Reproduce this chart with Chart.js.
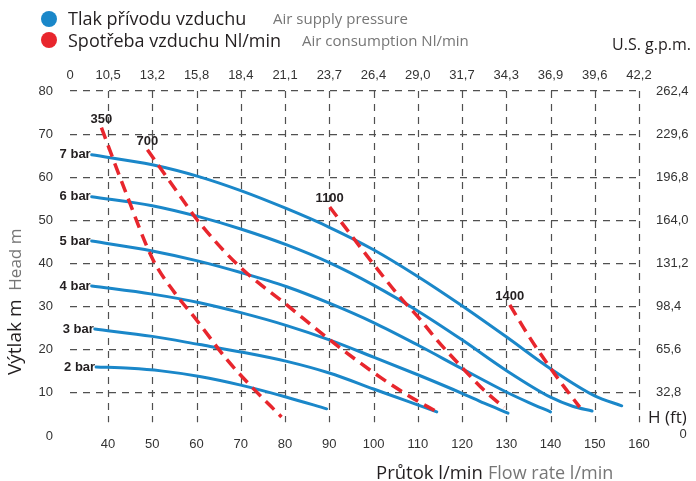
<!DOCTYPE html>
<html><head><meta charset="utf-8">
<script src="https://cdn.jsdelivr.net/npm/chart.js@4"></script>
<style>
html,body{margin:0;padding:0;background:#fff;}
#wrap{position:relative;width:696px;height:481px;overflow:hidden;background:#fff;}
canvas{position:absolute;left:0;top:0;}
.t{position:absolute;white-space:nowrap;font-family:'Open Sans',sans-serif;line-height:1;color:#231f20;}
.g{color:#767676;}
.dot{position:absolute;width:16px;height:16px;border-radius:50%;}
</style></head><body>
<div id="wrap">
<canvas id="c" width="696" height="481"></canvas>
<div class="dot" style="left:41px;top:11px;background:#1a87c9"></div>
<div class="dot" style="left:41px;top:32px;background:#e8262d"></div>
<div class="t" style="left:68px;top:9px;font-size:18px">Tlak přívodu vzduchu</div>
<div class="t g" style="left:273px;top:11px;font-size:15px">Air supply pressure</div>
<div class="t" style="left:68px;top:31px;font-size:18px">Spotřeba vzduchu Nl/min</div>
<div class="t g" style="left:302px;top:33px;font-size:15px">Air consumption Nl/min</div>
<div class="t" style="right:5px;top:36px;font-size:16px">U.S. g.p.m.</div>
<div class="t" style="left:648px;top:408px;font-size:17px">H (ft)</div>
<div class="t" style="left:376px;top:463px;font-size:18.5px">Průtok l/min</div>
<div class="t g" style="left:488px;top:463px;font-size:18px">Flow rate l/min</div>
<div class="t" style="left:5px;top:375px;font-size:19px;transform-origin:0 0;transform:rotate(-90deg)">Výtlak m<span class="g" style="font-size:17px">&nbsp;&nbsp;Head m</span></div>
</div>
<script>
// ---- Data ----
const xTicks = [40,50,60,70,80,90,100,110,120,130,140,150,160];
const gpmLabels = ['0','10,5','13,2','15,8','18,4','21,1','23,7','26,4','29,0','31,7','34,3','36,9','39,6','42,2'];
const yTicks = [0,10,20,30,40,50,60,70,80];
const ftLabels = ['0','32,8','65,6','98,4','131,2','164,0','196,8','229,6','262,4'];

const pressureLabels = ['2 bar','3 bar','4 bar','5 bar','6 bar','7 bar'];
const bar2X = [37.3, 45, 52, 60.7, 70, 80.4, 89.4];
const bar2Y = [16.0, 15.7, 15.1, 13.8, 11.8, 9.0, 6.3];
const bar3X = [37, 50, 60.7, 70, 80.4, 90, 100, 107, 114.3];
const bar3Y = [24.8, 23.1, 21.2, 19.5, 17.3, 14.6, 10.9, 8.3, 5.6];
const bar4X = [36.3, 50, 60.7, 70, 80.4, 90, 100, 110, 120, 125, 130.4];
const bar4Y = [34.8, 32.9, 30.9, 28.6, 25.6, 22.3, 18.3, 14.2, 9.9, 7.6, 5.3];
const bar5X = [36.3, 50, 60.7, 70, 80.4, 90, 100, 110, 120, 130, 135, 140];
const bar5Y = [45.2, 42.9, 40.5, 37.9, 34.6, 30.8, 26.3, 21.1, 15.6, 10.2, 7.8, 5.6];
const bar6X = [36.3, 50, 60.7, 70, 80.4, 90, 100, 110, 120, 130, 140, 145, 149.4];
const bar6Y = [55.5, 53.4, 50.8, 48.0, 44.3, 40.2, 35.0, 29.0, 22.3, 15.2, 9.0, 6.9, 5.8];
const bar7X = [36.3, 50, 60.7, 70, 80.4, 90, 100, 110, 120, 130, 140, 150, 156.1];
const bar7Y = [65.2, 62.9, 60.1, 56.9, 52.7, 48.4, 43.2, 37.0, 30.2, 23.0, 15.6, 9.3, 7.0];

const consumptionLabels = ['350','700','1100','1400'];
const c350X = [38.5, 44, 50.1, 55, 60, 66.8, 72, 79.2];
const c350Y = [71.5, 56.5, 41, 33.3, 26.9, 17.8, 11.9, 4.4];
const c700X = [48.9, 55, 60.7, 69.8, 80.4, 90.1, 101.4, 108, 114.3];
const c700Y = [66.4, 57.5, 49.4, 39.2, 30.4, 22.3, 13.7, 9.3, 5.6];
const c1100X = [90.1, 95, 99.8, 105.9, 110.4, 114.3, 120, 125, 129.5];
const c1100Y = [53.1, 46.5, 40.1, 32.3, 27.2, 22.3, 15.9, 10.6, 6.6];
const c1400X = [130.8, 135, 139.2, 143, 146.6];
const c1400Y = [30.4, 23.3, 16.9, 11.5, 6.7];

// ---- Chart ----
const X_MIN = 31.4, X_MAX = 160, Y_MIN = 0, Y_MAX = 80, GRID_BOTTOM = 3.2;
const BLUE = '#1a87c9', RED = '#e8262d', GRID = '#505050';
const pts = (xs, ys) => xs.map((x, i) => ({x: x, y: ys[i]}));

const pressureSeries = [[bar2X,bar2Y],[bar3X,bar3Y],[bar4X,bar4Y],[bar5X,bar5Y],[bar6X,bar6Y],[bar7X,bar7Y]];
const consumptionSeries = [[c350X,c350Y],[c700X,c700Y],[c1100X,c1100Y],[c1400X,c1400Y]];

const datasets = [];
consumptionSeries.forEach((s, i) => datasets.push({
  label: consumptionLabels[i], kind: 'c', data: pts(s[0], s[1]),
  borderColor: RED, borderWidth: 3.5, borderDash: [12, 7], borderCapStyle: 'butt',
  pointRadius: 0, cubicInterpolationMode: 'monotone', fill: false
}));
pressureSeries.forEach((s, i) => datasets.push({
  label: pressureLabels[i], kind: 'p', data: pts(s[0], s[1]),
  borderColor: BLUE, borderWidth: 3, borderCapStyle: 'round',
  pointRadius: 0, cubicInterpolationMode: 'monotone', fill: false
}));

const tickFont = {family: "'Liberation Sans', Arial, sans-serif", size: 13};

const gridPlugin = {
  id: 'vgrid',
  beforeDatasetsDraw(chart) {
    const {ctx, chartArea, scales} = chart;
    const x = scales.x, y = scales.y;
    ctx.save();
    ctx.setLineDash([7, 6]);
    ctx.strokeStyle = GRID;
    ctx.lineWidth = 1.2;
    xTicks.forEach(v => {
      const px = Math.round(x.getPixelForValue(v)) + 0.5;
      ctx.beginPath();
      ctx.moveTo(px, chartArea.top);
      ctx.lineTo(px, y.getPixelForValue(GRID_BOTTOM));
      ctx.stroke();
    });
    ctx.restore();
  }
};

const labelPlugin = {
  id: 'labels',
  afterDatasetsDraw(chart) {
    const {ctx} = chart;
    const x = chart.scales.x, y = chart.scales.y;
    ctx.save();
    ctx.fillStyle = '#231f20';
    ctx.font = "bold 13px 'Liberation Sans', Arial, sans-serif";
    chart.data.datasets.forEach(ds => {
      const p = ds.data[0];
      const px = x.getPixelForValue(p.x), py = y.getPixelForValue(p.y);
      if (ds.kind === 'p') {
        ctx.textAlign = 'right'; ctx.textBaseline = 'middle';
        ctx.fillText(ds.label, px - 1, py);
      } else {
        ctx.textAlign = 'center'; ctx.textBaseline = 'bottom';
        ctx.fillText(ds.label, px, py - 2);
      }
    });
    ctx.font = "13px 'Liberation Sans', Arial, sans-serif";
    ctx.fillStyle = '#333';
    ctx.textAlign = 'center'; ctx.textBaseline = 'middle';
    ctx.fillText(ftLabels[0], 683, y.getPixelForValue(0) - 2);
    ctx.restore();
  }
};

new Chart(document.getElementById('c'), {
  type: 'line',
  data: {datasets: datasets},
  options: {
    responsive: false, animation: false, devicePixelRatio: 1,
    layout: {padding: 0},
    plugins: {legend: {display: false}, tooltip: {enabled: false}},
    scales: {
      x: {
        type: 'linear', position: 'bottom', min: X_MIN, max: X_MAX,
        afterBuildTicks: s => { s.ticks = xTicks.map(v => ({value: v})); },
        afterFit: s => { s.height = 45; },
        ticks: {font: tickFont, color: '#333', padding: 1, autoSkip: false, maxRotation: 0,
                callback: v => String(v)},
        grid: {display: false, drawTicks: false},
        border: {display: false}
      },
      x2: {
        type: 'linear', position: 'top', min: X_MIN, max: X_MAX,
        afterBuildTicks: s => { s.ticks = [X_MIN].concat(xTicks).map(v => ({value: v})); },
        afterFit: s => { s.height = 91; },
        ticks: {font: tickFont, color: '#333', padding: 8, autoSkip: false, maxRotation: 0,
                callback: (v, i) => gpmLabels[i]},
        grid: {display: false, drawTicks: false},
        border: {display: false}
      },
      y: {
        type: 'linear', position: 'left', min: Y_MIN, max: Y_MAX,
        afterBuildTicks: s => { s.ticks = yTicks.map(v => ({value: v})); },
        afterFit: s => { s.width = 70; },
        ticks: {font: tickFont, color: '#333', padding: 17, callback: v => String(v)},
        grid: {drawTicks: false, lineWidth: 1.2,
               color: c => (c.tick && c.tick.value === 0) ? 'rgba(0,0,0,0)' : GRID},
        border: {display: false, dash: [7, 6]}
      },
      yft: {
        type: 'linear', position: 'right', min: Y_MIN, max: Y_MAX,
        afterBuildTicks: s => { s.ticks = yTicks.map(v => ({value: v})); },
        afterFit: s => { s.width = 57; },
        ticks: {font: tickFont, color: '#333', padding: 17,
                callback: (v, i) => i === 0 ? '' : ftLabels[i]},
        grid: {display: false, drawTicks: false},
        border: {display: false}
      }
    }
  },
  plugins: [gridPlugin, labelPlugin]
});
</script>
</body></html>
